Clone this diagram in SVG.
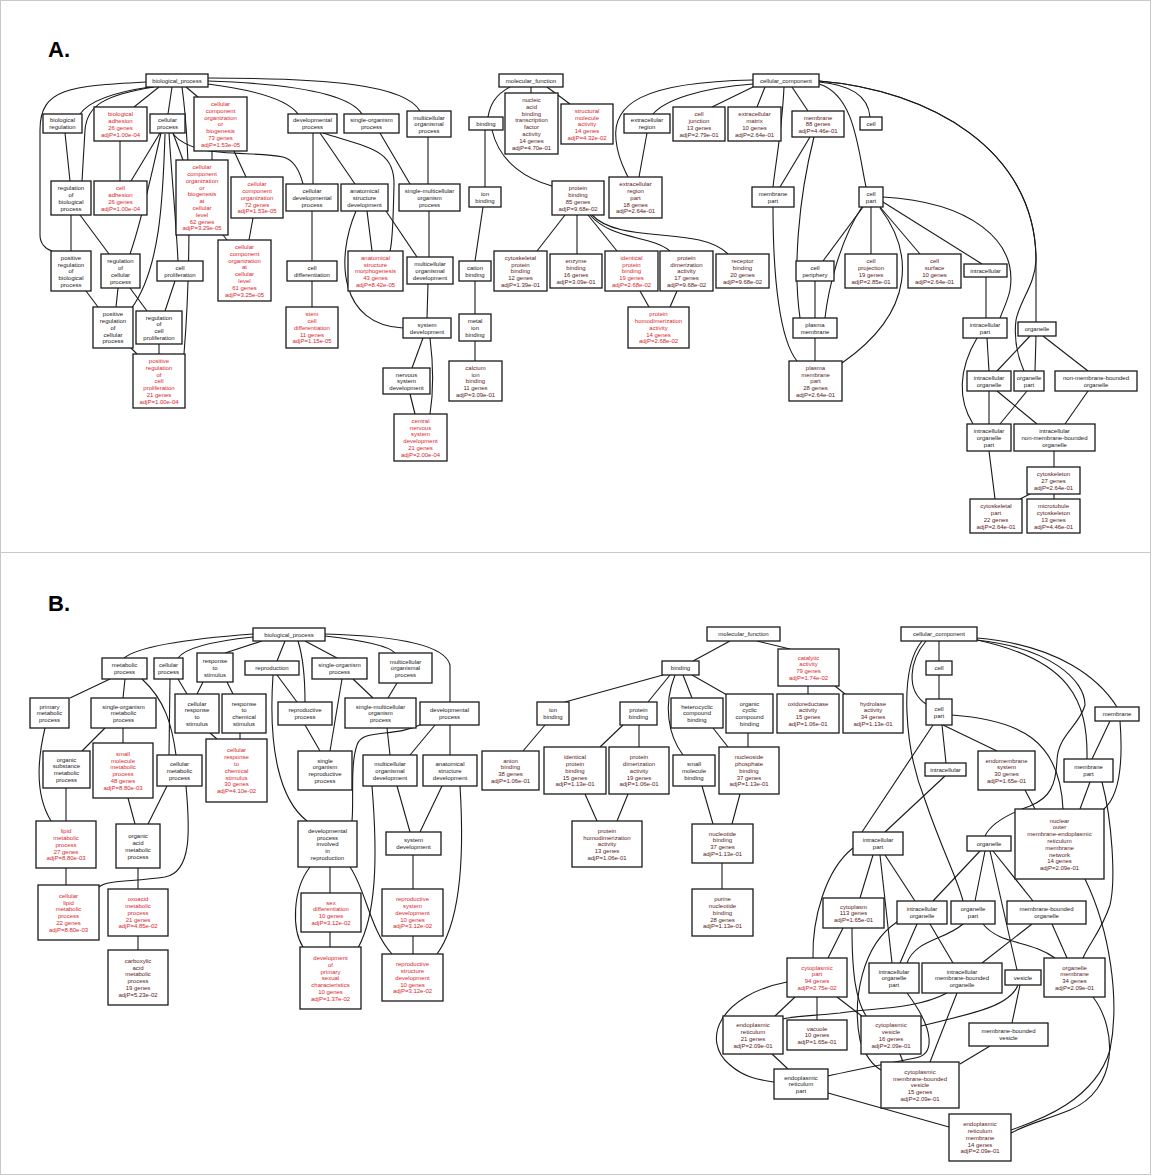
<svg xmlns="http://www.w3.org/2000/svg" width="1151" height="1175" viewBox="0 0 1151 1175">
<style>
text{font-family:"Liberation Sans",Arial,Helvetica,sans-serif;font-size:6px;text-anchor:middle;fill:#1a1a1a}
.n rect{fill:#fff;stroke:#1a1a1a;stroke-width:1.3}
.r text{fill:#d9262e}
.m text{fill:#5a1a22}
#edges path{fill:none;stroke:#1a1a1a;stroke-width:1.1}
.lbl{font-size:22px;font-weight:bold;text-anchor:start;fill:#000}
</style>
<rect x="0.5" y="0.5" width="1150" height="1174" fill="#fff" stroke="#c8c8c8"/>
<line x1="0" y1="552.5" x2="1151" y2="552.5" stroke="#c8c8c8"/>
<text class="lbl" x="48" y="57">A.</text>
<text class="lbl" x="48" y="611">B.</text>
<g id="edges">
<path d="M146,82 C70,86 40,88 40,130 L40,235 C40,243 45,249 52,251"/>
<path d="M150,87 C115,92 90,100 80,114"/>
<path d="M154,87 C105,95 87,105 85,130 L82,181"/>
<path d="M159,87 L134,107"/>
<path d="M172,87 L168,114"/>
<path d="M186,87 L198,97"/>
<path d="M182,87 C192,160 190,280 184,354"/>
<path d="M208,84 C255,90 288,100 298,114"/>
<path d="M208,81 C300,84 350,95 362,114"/>
<path d="M208,78 C330,78 405,85 420,111"/>
<path d="M173,134 C195,160 250,150 283,157 C295,160 300,172 303,184"/>
<path d="M173,133 L183,160"/>
<path d="M160,133 L131,181"/>
<path d="M161,133 C150,180 142,220 130,254"/>
<path d="M169,133 C172,180 176,220 178,261"/>
<path d="M165,134 C163,200 160,270 131,309"/>
<path d="M212,151 L212,160"/>
<path d="M234,151 L246,177"/>
<path d="M223,235 L227,240"/>
<path d="M253,218 L249,240"/>
<path d="M120,141 L120,181"/>
<path d="M65,133 L70,181"/>
<path d="M71,215 L71,251"/>
<path d="M80,215 L109,254"/>
<path d="M313,133 L313,184"/>
<path d="M320,133 L355,184"/>
<path d="M323,133 C370,148 395,150 394,185 C393,220 393,240 390,251"/>
<path d="M367,211 L372,251"/>
<path d="M356,211 C335,260 340,325 403,328"/>
<path d="M386,211 L417,257"/>
<path d="M380,133 L410,184"/>
<path d="M428,137 L428,184"/>
<path d="M429,211 L429,257"/>
<path d="M428,284 L427,318"/>
<path d="M423,338 L412,368"/>
<path d="M430,338 C434,370 433,395 430,414"/>
<path d="M410,394 L415,414"/>
<path d="M312,211 L312,261"/>
<path d="M312,281 L312,307"/>
<path d="M86,291 L98,307"/>
<path d="M118,288 L116,307"/>
<path d="M130,288 L147,311"/>
<path d="M175,281 L165,311"/>
<path d="M131,348 L137,354"/>
<path d="M159,344 L159,354"/>
<path d="M510,87 C495,95 490,105 488,117"/>
<path d="M531,87 L531,93"/>
<path d="M547,87 L570,104"/>
<path d="M485,130 L485,187"/>
<path d="M492,130 C500,165 530,180 552,186"/>
<path d="M483,207 L475,261"/>
<path d="M475,281 L475,314"/>
<path d="M475,341 L475,361"/>
<path d="M565,215 L537,251"/>
<path d="M577,215 L577,254"/>
<path d="M588,215 L617,251"/>
<path d="M590,215 C612,240 650,235 670,251"/>
<path d="M592,215 C620,245 700,225 728,254"/>
<path d="M640,291 L649,307"/>
<path d="M677,291 L670,307"/>
<path d="M753,84 C700,88 665,100 653,114"/>
<path d="M753,80 C640,82 612,105 616,140 C618,160 625,170 628,177"/>
<path d="M753,87 L712,107"/>
<path d="M765,87 L757,107"/>
<path d="M792,87 L808,111"/>
<path d="M784,87 C782,130 776,160 773,187"/>
<path d="M647,133 L639,177"/>
<path d="M810,137 L780,187"/>
<path d="M814,137 C798,200 793,270 800,318"/>
<path d="M819,82 C850,85 868,95 870,117"/>
<path d="M819,84 C855,95 858,150 866,187"/>
<path d="M819,81 C930,90 1036,150 1036,260 L1036,322"/>
<path d="M819,81 C930,90 1036,150 1036,260 C1035,285 1020,300 1016,320 C1013,345 1020,362 1024,371"/>
<path d="M883,197 C970,202 1018,240 1010,290 C1008,300 1003,310 1000,318"/>
<path d="M883,202 L982,264"/>
<path d="M863,207 L823,261"/>
<path d="M862,207 C840,240 828,290 825,318"/>
<path d="M871,207 L871,254"/>
<path d="M880,207 L920,254"/>
<path d="M880,208 C912,250 918,310 842,363"/>
<path d="M815,281 L815,318"/>
<path d="M773,207 C773,280 780,340 797,361"/>
<path d="M815,338 L815,361"/>
<path d="M986,277 L986,318"/>
<path d="M987,338 L989,371"/>
<path d="M977,338 C958,370 958,400 973,424"/>
<path d="M1030,336 L997,371"/>
<path d="M1036,336 L1035,371"/>
<path d="M1043,336 L1088,371"/>
<path d="M989,391 L989,424"/>
<path d="M997,391 L1037,424"/>
<path d="M1027,391 L1000,424"/>
<path d="M1088,391 L1065,424"/>
<path d="M1054,451 L1054,467"/>
<path d="M989,451 L995,499"/>
<path d="M1030,494 L1020,499"/>
<path d="M1054,494 L1054,499"/>
<path d="M253,634 C200,638 140,645 124,658"/>
<path d="M253,637 C215,641 185,648 178,658"/>
<path d="M262,641 L225,653"/>
<path d="M285,641 L277,661"/>
<path d="M298,641 C304,660 305,690 305,702"/>
<path d="M305,641 L337,658"/>
<path d="M325,636 C360,640 388,645 395,653"/>
<path d="M325,634 C400,636 445,645 450,665 L450,702"/>
<path d="M110,679 L70,698"/>
<path d="M125,679 L123,698"/>
<path d="M142,679 C165,700 172,725 176,755"/>
<path d="M170,679 L169,755"/>
<path d="M178,679 L187,694"/>
<path d="M203,682 L197,694"/>
<path d="M227,682 L233,694"/>
<path d="M210,733 L217,739"/>
<path d="M240,733 L240,739"/>
<path d="M105,728 L82,751"/>
<path d="M123,728 L123,743"/>
<path d="M45,728 C35,770 38,800 51,821"/>
<path d="M66,788 L66,821"/>
<path d="M128,798 L135,824"/>
<path d="M167,786 L148,824"/>
<path d="M186,786 C190,830 192,872 165,877 C130,882 108,880 99,887"/>
<path d="M66,868 L66,885"/>
<path d="M138,868 L138,889"/>
<path d="M138,936 L138,950"/>
<path d="M277,675 L297,702"/>
<path d="M273,675 C268,750 280,800 307,821"/>
<path d="M353,679 L373,698"/>
<path d="M342,679 L330,751"/>
<path d="M305,725 L320,751"/>
<path d="M397,683 L388,698"/>
<path d="M387,728 L390,755"/>
<path d="M435,725 L410,755"/>
<path d="M450,725 L450,755"/>
<path d="M422,724 C395,738 362,728 357,745 C350,765 354,800 352,821"/>
<path d="M397,786 L410,832"/>
<path d="M442,786 L420,832"/>
<path d="M372,786 C378,860 376,915 358,948"/>
<path d="M460,786 C464,850 462,920 437,954"/>
<path d="M413,855 L413,889"/>
<path d="M413,936 L413,954"/>
<path d="M330,867 L330,893"/>
<path d="M310,867 C292,890 292,930 303,947"/>
<path d="M350,867 C366,890 370,930 392,954"/>
<path d="M330,932 L330,947"/>
<path d="M730,641 L693,661"/>
<path d="M757,641 L790,649"/>
<path d="M808,686 L808,694"/>
<path d="M835,686 L845,694"/>
<path d="M663,675 L565,702"/>
<path d="M670,675 L648,702"/>
<path d="M683,675 L692,698"/>
<path d="M692,675 L727,695"/>
<path d="M675,675 C663,705 668,735 683,755"/>
<path d="M748,733 L748,747"/>
<path d="M713,728 L728,747"/>
<path d="M545,725 L523,751"/>
<path d="M623,725 L600,747"/>
<path d="M639,725 L639,747"/>
<path d="M585,794 L597,821"/>
<path d="M628,794 L617,821"/>
<path d="M702,786 L713,824"/>
<path d="M740,794 L732,824"/>
<path d="M722,863 L722,889"/>
<path d="M939,641 L939,661"/>
<path d="M939,675 L939,699"/>
<path d="M926,641 C910,660 905,690 926,704"/>
<path d="M922,641 C898,670 905,750 925,800 C942,850 958,880 963,901"/>
<path d="M977,638 C1060,645 1100,680 1117,707"/>
<path d="M977,640 C1070,660 1088,700 1087,759"/>
<path d="M977,640 C1050,648 1085,680 1085,705 C1080,725 1058,735 1057,760 C1056,785 1050,798 1030,806 C1005,815 990,825 985,836"/>
<path d="M1110,721 L1092,759"/>
<path d="M1120,721 C1123,760 1120,795 1104,809"/>
<path d="M1102,782 C1112,820 1116,880 1110,905 C1102,930 1088,945 1083,958"/>
<path d="M1090,782 L1080,809"/>
<path d="M952,715 C1020,720 1060,740 1063,809"/>
<path d="M1025,790 L1035,809"/>
<path d="M943,725 L997,751"/>
<path d="M942,725 L946,763"/>
<path d="M933,725 L862,832"/>
<path d="M945,776 L885,832"/>
<path d="M853,848 C825,870 812,920 813,958"/>
<path d="M873,855 L860,898"/>
<path d="M880,855 L892,963"/>
<path d="M885,855 L915,901"/>
<path d="M980,851 L933,901"/>
<path d="M985,851 L975,901"/>
<path d="M993,851 L1033,901"/>
<path d="M990,851 L1017,970"/>
<path d="M843,928 L828,958"/>
<path d="M852,928 C852,975 856,1000 866,1016"/>
<path d="M917,924 L900,963"/>
<path d="M930,924 L953,963"/>
<path d="M897,922 C862,945 852,1000 860,1040 C866,1058 874,1066 881,1070"/>
<path d="M963,924 C945,940 915,940 907,963"/>
<path d="M983,924 C1000,945 1030,940 1055,958"/>
<path d="M1032,924 L982,963"/>
<path d="M1052,924 L1067,958"/>
<path d="M1085,879 C1110,930 1120,1000 1110,1050 C1095,1100 1040,1120 1011,1130"/>
<path d="M1093,997 C1118,1030 1118,1090 1070,1110 C1045,1120 1025,1125 1011,1133"/>
<path d="M795,997 L775,1016"/>
<path d="M817,997 L817,1020"/>
<path d="M837,997 L863,1017"/>
<path d="M787,982 C720,995 700,1040 730,1065 C745,1078 760,1080 774,1082"/>
<path d="M772,1054 L788,1069"/>
<path d="M947,993 C915,1010 870,1008 840,1013 C810,1016 795,1016 783,1019"/>
<path d="M907,993 C935,1030 935,1055 915,1058 C880,1065 845,1072 828,1076"/>
<path d="M957,993 L930,1062"/>
<path d="M1018,985 C1010,1005 980,1012 921,1026"/>
<path d="M1020,985 L1012,1023"/>
<path d="M990,1046 L960,1064"/>
<path d="M900,1054 L903,1062"/>
<path d="M828,1093 L949,1127"/>
</g>
<g id="a-bp" class="n"><rect x="146" y="74" width="62" height="13"/><text y="82.8"><tspan x="177">biological_process</tspan></text></g>
<g id="a-bioreg" class="n"><rect x="43" y="114" width="39" height="19"/><text y="122.4"><tspan x="62.5">biological</tspan><tspan x="62.5" dy="6.8">regulation</tspan></text></g>
<g id="a-bioadh" class="n r"><rect x="94" y="107" width="53" height="34"/><text y="116.1"><tspan x="120.5">biological</tspan><tspan x="120.5" dy="6.8">adhesion</tspan><tspan x="120.5" dy="6.8">26 genes</tspan><tspan x="120.5" dy="6.8">adjP=1.00e-04</tspan></text></g>
<g id="a-cellproc" class="n"><rect x="150" y="114" width="35" height="19"/><text y="122.4"><tspan x="167.5">cellular</tspan><tspan x="167.5" dy="6.8">process</tspan></text></g>
<g id="a-cccob" class="n r"><rect x="194" y="97" width="53" height="54"/><text y="105.9"><tspan x="220.5">cellular</tspan><tspan x="220.5" dy="6.8">component</tspan><tspan x="220.5" dy="6.8">organization</tspan><tspan x="220.5" dy="6.8">or</tspan><tspan x="220.5" dy="6.8">biogenesis</tspan><tspan x="220.5" dy="6.8">73 genes</tspan><tspan x="220.5" dy="6.8">adjP=1.53e-05</tspan></text></g>
<g id="a-devproc" class="n"><rect x="288" y="114" width="49" height="19"/><text y="122.4"><tspan x="312.5">developmental</tspan><tspan x="312.5" dy="6.8">process</tspan></text></g>
<g id="a-singorg" class="n"><rect x="344" y="114" width="55" height="19"/><text y="122.4"><tspan x="371.5">single-organism</tspan><tspan x="371.5" dy="6.8">process</tspan></text></g>
<g id="a-mcop" class="n"><rect x="407" y="111" width="44" height="26"/><text y="119.5"><tspan x="429">multicellular</tspan><tspan x="429" dy="6.8">organismal</tspan><tspan x="429" dy="6.8">process</tspan></text></g>
<g id="a-regbp" class="n"><rect x="51" y="181" width="40" height="34"/><text y="190.1"><tspan x="71">regulation</tspan><tspan x="71" dy="6.8">of</tspan><tspan x="71" dy="6.8">biological</tspan><tspan x="71" dy="6.8">process</tspan></text></g>
<g id="a-celladh" class="n r"><rect x="94" y="181" width="53" height="34"/><text y="190.1"><tspan x="120.5">cell</tspan><tspan x="120.5" dy="6.8">adhesion</tspan><tspan x="120.5" dy="6.8">26 genes</tspan><tspan x="120.5" dy="6.8">adjP=1.00e-04</tspan></text></g>
<g id="a-cccobcl" class="n r"><rect x="176" y="160" width="52" height="75"/><text y="169.2"><tspan x="202">cellular</tspan><tspan x="202" dy="6.8">component</tspan><tspan x="202" dy="6.8">organization</tspan><tspan x="202" dy="6.8">or</tspan><tspan x="202" dy="6.8">biogenesis</tspan><tspan x="202" dy="6.8">at</tspan><tspan x="202" dy="6.8">cellular</tspan><tspan x="202" dy="6.8">level</tspan><tspan x="202" dy="6.8">62 genes</tspan><tspan x="202" dy="6.8">adjP=3.29e-05</tspan></text></g>
<g id="a-cco" class="n r"><rect x="231" y="177" width="52" height="41"/><text y="186.2"><tspan x="257">cellular</tspan><tspan x="257" dy="6.8">component</tspan><tspan x="257" dy="6.8">organization</tspan><tspan x="257" dy="6.8">72 genes</tspan><tspan x="257" dy="6.8">adjP=1.53e-05</tspan></text></g>
<g id="a-celldev" class="n"><rect x="286" y="184" width="52" height="27"/><text y="193"><tspan x="312">cellular</tspan><tspan x="312" dy="6.8">developmental</tspan><tspan x="312" dy="6.8">process</tspan></text></g>
<g id="a-asd" class="n"><rect x="341" y="184" width="47" height="27"/><text y="193"><tspan x="364.5">anatomical</tspan><tspan x="364.5" dy="6.8">structure</tspan><tspan x="364.5" dy="6.8">development</tspan></text></g>
<g id="a-smop" class="n"><rect x="399" y="184" width="61" height="27"/><text y="193"><tspan x="429.5">single-multicellular</tspan><tspan x="429.5" dy="6.8">organism</tspan><tspan x="429.5" dy="6.8">process</tspan></text></g>
<g id="a-posregbp" class="n"><rect x="51" y="251" width="40" height="40"/><text y="259.7"><tspan x="71">positive</tspan><tspan x="71" dy="6.8">regulation</tspan><tspan x="71" dy="6.8">of</tspan><tspan x="71" dy="6.8">biological</tspan><tspan x="71" dy="6.8">process</tspan></text></g>
<g id="a-regcp" class="n"><rect x="101" y="254" width="39" height="34"/><text y="263.1"><tspan x="120.5">regulation</tspan><tspan x="120.5" dy="6.8">of</tspan><tspan x="120.5" dy="6.8">cellular</tspan><tspan x="120.5" dy="6.8">process</tspan></text></g>
<g id="a-cellprol" class="n"><rect x="157" y="261" width="46" height="20"/><text y="269.9"><tspan x="180">cell</tspan><tspan x="180" dy="6.8">proliferation</tspan></text></g>
<g id="a-ccocl" class="n r"><rect x="218" y="240" width="53" height="61"/><text y="249"><tspan x="244.5">cellular</tspan><tspan x="244.5" dy="6.8">component</tspan><tspan x="244.5" dy="6.8">organization</tspan><tspan x="244.5" dy="6.8">at</tspan><tspan x="244.5" dy="6.8">cellular</tspan><tspan x="244.5" dy="6.8">level</tspan><tspan x="244.5" dy="6.8">61 genes</tspan><tspan x="244.5" dy="6.8">adjP=3.25e-05</tspan></text></g>
<g id="a-celldiff" class="n"><rect x="287" y="261" width="50" height="20"/><text y="269.9"><tspan x="312">cell</tspan><tspan x="312" dy="6.8">differentiation</tspan></text></g>
<g id="a-asm" class="n r"><rect x="348" y="251" width="55" height="40"/><text y="259.7"><tspan x="375.5">anatomical</tspan><tspan x="375.5" dy="6.8">structure</tspan><tspan x="375.5" dy="6.8">morphogenesis</tspan><tspan x="375.5" dy="6.8">43 genes</tspan><tspan x="375.5" dy="6.8">adjP=8.42e-05</tspan></text></g>
<g id="a-mod" class="n"><rect x="407" y="257" width="46" height="27"/><text y="266"><tspan x="430">multicellular</tspan><tspan x="430" dy="6.8">organismal</tspan><tspan x="430" dy="6.8">development</tspan></text></g>
<g id="a-posregcp" class="n"><rect x="93" y="307" width="40" height="41"/><text y="316.2"><tspan x="113">positive</tspan><tspan x="113" dy="6.8">regulation</tspan><tspan x="113" dy="6.8">of</tspan><tspan x="113" dy="6.8">cellular</tspan><tspan x="113" dy="6.8">process</tspan></text></g>
<g id="a-regcellprol" class="n"><rect x="136" y="311" width="46" height="33"/><text y="319.6"><tspan x="159">regulation</tspan><tspan x="159" dy="6.8">of</tspan><tspan x="159" dy="6.8">cell</tspan><tspan x="159" dy="6.8">proliferation</tspan></text></g>
<g id="a-posregcellprol" class="n r"><rect x="133" y="354" width="52" height="54"/><text y="362.9"><tspan x="159">positive</tspan><tspan x="159" dy="6.8">regulation</tspan><tspan x="159" dy="6.8">of</tspan><tspan x="159" dy="6.8">cell</tspan><tspan x="159" dy="6.8">proliferation</tspan><tspan x="159" dy="6.8">21 genes</tspan><tspan x="159" dy="6.8">adjP=1.00e-04</tspan></text></g>
<g id="a-stemcell" class="n r"><rect x="286" y="307" width="52" height="41"/><text y="316.2"><tspan x="312">stem</tspan><tspan x="312" dy="6.8">cell</tspan><tspan x="312" dy="6.8">differentiation</tspan><tspan x="312" dy="6.8">11 genes</tspan><tspan x="312" dy="6.8">adjP=1.15e-05</tspan></text></g>
<g id="a-sysdev" class="n"><rect x="403" y="318" width="48" height="20"/><text y="326.9"><tspan x="427">system</tspan><tspan x="427" dy="6.8">development</tspan></text></g>
<g id="a-nsd" class="n"><rect x="383" y="368" width="47" height="26"/><text y="376.5"><tspan x="406.5">nervous</tspan><tspan x="406.5" dy="6.8">system</tspan><tspan x="406.5" dy="6.8">development</tspan></text></g>
<g id="a-cnsd" class="n r"><rect x="394" y="414" width="53" height="47"/><text y="422.8"><tspan x="420.5">central</tspan><tspan x="420.5" dy="6.8">nervous</tspan><tspan x="420.5" dy="6.8">system</tspan><tspan x="420.5" dy="6.8">development</tspan><tspan x="420.5" dy="6.8">21 genes</tspan><tspan x="420.5" dy="6.8">adjP=2.00e-04</tspan></text></g>
<g id="a-mf" class="n"><rect x="499" y="74" width="64" height="13"/><text y="82.8"><tspan x="531">molecular_function</tspan></text></g>
<g id="a-binding" class="n"><rect x="469" y="117" width="34" height="13"/><text y="125.8"><tspan x="486">binding</tspan></text></g>
<g id="a-nabtf" class="n m"><rect x="505" y="93" width="53" height="61"/><text y="102"><tspan x="531.5">nucleic</tspan><tspan x="531.5" dy="6.8">acid</tspan><tspan x="531.5" dy="6.8">binding</tspan><tspan x="531.5" dy="6.8">transcription</tspan><tspan x="531.5" dy="6.8">factor</tspan><tspan x="531.5" dy="6.8">activity</tspan><tspan x="531.5" dy="6.8">14 genes</tspan><tspan x="531.5" dy="6.8">adjP=4.70e-01</tspan></text></g>
<g id="a-sma" class="n r"><rect x="561" y="104" width="52" height="40"/><text y="112.7"><tspan x="587">structural</tspan><tspan x="587" dy="6.8">molecule</tspan><tspan x="587" dy="6.8">activity</tspan><tspan x="587" dy="6.8">14 genes</tspan><tspan x="587" dy="6.8">adjP=4.32e-02</tspan></text></g>
<g id="a-ionb" class="n"><rect x="469" y="187" width="32" height="20"/><text y="195.9"><tspan x="485">ion</tspan><tspan x="485" dy="6.8">binding</tspan></text></g>
<g id="a-protb" class="n m"><rect x="552" y="181" width="52" height="34"/><text y="190.1"><tspan x="578">protein</tspan><tspan x="578" dy="6.8">binding</tspan><tspan x="578" dy="6.8">85 genes</tspan><tspan x="578" dy="6.8">adjP=9.68e-02</tspan></text></g>
<g id="a-erp" class="n m"><rect x="609" y="177" width="53" height="41"/><text y="186.2"><tspan x="635.5">extracellular</tspan><tspan x="635.5" dy="6.8">region</tspan><tspan x="635.5" dy="6.8">part</tspan><tspan x="635.5" dy="6.8">18 genes</tspan><tspan x="635.5" dy="6.8">adjP=2.64e-01</tspan></text></g>
<g id="a-er" class="n"><rect x="624" y="114" width="46" height="19"/><text y="122.4"><tspan x="647">extracellular</tspan><tspan x="647" dy="6.8">region</tspan></text></g>
<g id="a-cj" class="n m"><rect x="673" y="107" width="52" height="34"/><text y="116.1"><tspan x="699">cell</tspan><tspan x="699" dy="6.8">junction</tspan><tspan x="699" dy="6.8">13 genes</tspan><tspan x="699" dy="6.8">adjP=2.79e-01</tspan></text></g>
<g id="a-em" class="n m"><rect x="728" y="107" width="53" height="34"/><text y="116.1"><tspan x="754.5">extracellular</tspan><tspan x="754.5" dy="6.8">matrix</tspan><tspan x="754.5" dy="6.8">10 genes</tspan><tspan x="754.5" dy="6.8">adjP=2.64e-01</tspan></text></g>
<g id="a-cc" class="n"><rect x="753" y="74" width="66" height="13"/><text y="82.8"><tspan x="786">cellular_component</tspan></text></g>
<g id="a-membrane" class="n m"><rect x="792" y="111" width="52" height="26"/><text y="119.5"><tspan x="818">membrane</tspan><tspan x="818" dy="6.8">88 genes</tspan><tspan x="818" dy="6.8">adjP=4.46e-01</tspan></text></g>
<g id="a-cell" class="n"><rect x="860" y="117" width="22" height="13"/><text y="125.8"><tspan x="871">cell</tspan></text></g>
<g id="a-mp" class="n"><rect x="752" y="187" width="42" height="20"/><text y="195.9"><tspan x="773">membrane</tspan><tspan x="773" dy="6.8">part</tspan></text></g>
<g id="a-cellpart" class="n"><rect x="859" y="187" width="24" height="20"/><text y="195.9"><tspan x="871">cell</tspan><tspan x="871" dy="6.8">part</tspan></text></g>
<g id="a-cpb" class="n m"><rect x="494" y="251" width="53" height="40"/><text y="259.7"><tspan x="520.5">cytoskeletal</tspan><tspan x="520.5" dy="6.8">protein</tspan><tspan x="520.5" dy="6.8">binding</tspan><tspan x="520.5" dy="6.8">12 genes</tspan><tspan x="520.5" dy="6.8">adjP=1.39e-01</tspan></text></g>
<g id="a-eb" class="n m"><rect x="550" y="254" width="52" height="34"/><text y="263.1"><tspan x="576">enzyme</tspan><tspan x="576" dy="6.8">binding</tspan><tspan x="576" dy="6.8">16 genes</tspan><tspan x="576" dy="6.8">adjP=3.09e-01</tspan></text></g>
<g id="a-ipb" class="n r"><rect x="605" y="251" width="53" height="40"/><text y="259.7"><tspan x="631.5">identical</tspan><tspan x="631.5" dy="6.8">protein</tspan><tspan x="631.5" dy="6.8">binding</tspan><tspan x="631.5" dy="6.8">19 genes</tspan><tspan x="631.5" dy="6.8">adjP=2.68e-02</tspan></text></g>
<g id="a-pda" class="n m"><rect x="660" y="251" width="53" height="40"/><text y="259.7"><tspan x="686.5">protein</tspan><tspan x="686.5" dy="6.8">dimerization</tspan><tspan x="686.5" dy="6.8">activity</tspan><tspan x="686.5" dy="6.8">17 genes</tspan><tspan x="686.5" dy="6.8">adjP=9.68e-02</tspan></text></g>
<g id="a-rb" class="n m"><rect x="716" y="254" width="53" height="34"/><text y="263.1"><tspan x="742.5">receptor</tspan><tspan x="742.5" dy="6.8">binding</tspan><tspan x="742.5" dy="6.8">20 genes</tspan><tspan x="742.5" dy="6.8">adjP=9.68e-02</tspan></text></g>
<g id="a-cationb" class="n"><rect x="459" y="261" width="32" height="20"/><text y="269.9"><tspan x="475">cation</tspan><tspan x="475" dy="6.8">binding</tspan></text></g>
<g id="a-metalb" class="n"><rect x="459" y="314" width="32" height="27"/><text y="323"><tspan x="475">metal</tspan><tspan x="475" dy="6.8">ion</tspan><tspan x="475" dy="6.8">binding</tspan></text></g>
<g id="a-calb" class="n m"><rect x="449" y="361" width="53" height="40"/><text y="369.7"><tspan x="475.5">calcium</tspan><tspan x="475.5" dy="6.8">ion</tspan><tspan x="475.5" dy="6.8">binding</tspan><tspan x="475.5" dy="6.8">11 genes</tspan><tspan x="475.5" dy="6.8">adjP=3.09e-01</tspan></text></g>
<g id="a-phda" class="n r"><rect x="628" y="307" width="61" height="41"/><text y="316.2"><tspan x="658.5">protein</tspan><tspan x="658.5" dy="6.8">homodimerization</tspan><tspan x="658.5" dy="6.8">activity</tspan><tspan x="658.5" dy="6.8">14 genes</tspan><tspan x="658.5" dy="6.8">adjP=2.68e-02</tspan></text></g>
<g id="a-cellper" class="n"><rect x="796" y="261" width="38" height="20"/><text y="269.9"><tspan x="815">cell</tspan><tspan x="815" dy="6.8">periphery</tspan></text></g>
<g id="a-cellproj" class="n m"><rect x="845" y="254" width="52" height="34"/><text y="263.1"><tspan x="871">cell</tspan><tspan x="871" dy="6.8">projection</tspan><tspan x="871" dy="6.8">19 genes</tspan><tspan x="871" dy="6.8">adjP=2.85e-01</tspan></text></g>
<g id="a-cellsurf" class="n m"><rect x="908" y="254" width="53" height="34"/><text y="263.1"><tspan x="934.5">cell</tspan><tspan x="934.5" dy="6.8">surface</tspan><tspan x="934.5" dy="6.8">10 genes</tspan><tspan x="934.5" dy="6.8">adjP=2.64e-01</tspan></text></g>
<g id="a-intra" class="n"><rect x="964" y="264" width="43" height="13"/><text y="272.8"><tspan x="985.5">intracellular</tspan></text></g>
<g id="a-pm" class="n"><rect x="793" y="318" width="44" height="20"/><text y="326.9"><tspan x="815">plasma</tspan><tspan x="815" dy="6.8">membrane</tspan></text></g>
<g id="a-pmp" class="n m"><rect x="789" y="361" width="53" height="40"/><text y="369.7"><tspan x="815.5">plasma</tspan><tspan x="815.5" dy="6.8">membrane</tspan><tspan x="815.5" dy="6.8">part</tspan><tspan x="815.5" dy="6.8">28 genes</tspan><tspan x="815.5" dy="6.8">adjP=2.64e-01</tspan></text></g>
<g id="a-ip" class="n"><rect x="963" y="318" width="44" height="20"/><text y="326.9"><tspan x="985">intracellular</tspan><tspan x="985" dy="6.8">part</tspan></text></g>
<g id="a-org" class="n"><rect x="1018" y="322" width="38" height="14"/><text y="331.3"><tspan x="1037">organelle</tspan></text></g>
<g id="a-io" class="n"><rect x="967" y="371" width="44" height="20"/><text y="379.9"><tspan x="989">intracellular</tspan><tspan x="989" dy="6.8">organelle</tspan></text></g>
<g id="a-op" class="n"><rect x="1014" y="371" width="30" height="20"/><text y="379.9"><tspan x="1029">organelle</tspan><tspan x="1029" dy="6.8">part</tspan></text></g>
<g id="a-nmbo" class="n"><rect x="1055" y="371" width="82" height="20"/><text y="379.9"><tspan x="1096">non-membrane-bounded</tspan><tspan x="1096" dy="6.8">organelle</tspan></text></g>
<g id="a-iop" class="n"><rect x="967" y="424" width="44" height="27"/><text y="433"><tspan x="989">intracellular</tspan><tspan x="989" dy="6.8">organelle</tspan><tspan x="989" dy="6.8">part</tspan></text></g>
<g id="a-inmbo" class="n"><rect x="1014" y="424" width="81" height="27"/><text y="433"><tspan x="1054.5">intracellular</tspan><tspan x="1054.5" dy="6.8">non-membrane-bounded</tspan><tspan x="1054.5" dy="6.8">organelle</tspan></text></g>
<g id="a-cytosk" class="n m"><rect x="1027" y="467" width="53" height="27"/><text y="476"><tspan x="1053.5">cytoskeleton</tspan><tspan x="1053.5" dy="6.8">27 genes</tspan><tspan x="1053.5" dy="6.8">adjP=2.64e-01</tspan></text></g>
<g id="a-cytoskp" class="n m"><rect x="970" y="499" width="52" height="34"/><text y="508.1"><tspan x="996">cytoskeletal</tspan><tspan x="996" dy="6.8">part</tspan><tspan x="996" dy="6.8">22 genes</tspan><tspan x="996" dy="6.8">adjP=2.64e-01</tspan></text></g>
<g id="a-mtc" class="n m"><rect x="1027" y="499" width="53" height="34"/><text y="508.1"><tspan x="1053.5">microtubule</tspan><tspan x="1053.5" dy="6.8">cytoskeleton</tspan><tspan x="1053.5" dy="6.8">13 genes</tspan><tspan x="1053.5" dy="6.8">adjP=4.46e-01</tspan></text></g>
<g id="b-bp" class="n"><rect x="253" y="628" width="72" height="13"/><text y="636.8"><tspan x="289">biological_process</tspan></text></g>
<g id="b-metab" class="n"><rect x="102" y="658" width="45" height="21"/><text y="667.4"><tspan x="124.5">metabolic</tspan><tspan x="124.5" dy="6.8">process</tspan></text></g>
<g id="b-cellproc" class="n"><rect x="154" y="658" width="29" height="21"/><text y="667.4"><tspan x="168.5">cellular</tspan><tspan x="168.5" dy="6.8">process</tspan></text></g>
<g id="b-rts" class="n"><rect x="197" y="653" width="36" height="29"/><text y="663"><tspan x="215">response</tspan><tspan x="215" dy="6.8">to</tspan><tspan x="215" dy="6.8">stimulus</tspan></text></g>
<g id="b-repro" class="n"><rect x="245" y="661" width="54" height="14"/><text y="670.3"><tspan x="272">reproduction</tspan></text></g>
<g id="b-singorg" class="n"><rect x="312" y="658" width="55" height="21"/><text y="667.4"><tspan x="339.5">single-organism</tspan><tspan x="339.5" dy="6.8">process</tspan></text></g>
<g id="b-mop" class="n"><rect x="379" y="653" width="53" height="30"/><text y="663.5"><tspan x="405.5">multicellular</tspan><tspan x="405.5" dy="6.8">organismal</tspan><tspan x="405.5" dy="6.8">process</tspan></text></g>
<g id="b-pmp" class="n"><rect x="30" y="698" width="39" height="30"/><text y="708.5"><tspan x="49.5">primary</tspan><tspan x="49.5" dy="6.8">metabolic</tspan><tspan x="49.5" dy="6.8">process</tspan></text></g>
<g id="b-somp" class="n"><rect x="91" y="698" width="65" height="30"/><text y="708.5"><tspan x="123.5">single-organism</tspan><tspan x="123.5" dy="6.8">metabolic</tspan><tspan x="123.5" dy="6.8">process</tspan></text></g>
<g id="b-crts" class="n"><rect x="175" y="694" width="44" height="39"/><text y="705.6"><tspan x="197">cellular</tspan><tspan x="197" dy="6.8">response</tspan><tspan x="197" dy="6.8">to</tspan><tspan x="197" dy="6.8">stimulus</tspan></text></g>
<g id="b-rtcs" class="n"><rect x="222" y="694" width="44" height="39"/><text y="705.6"><tspan x="244">response</tspan><tspan x="244" dy="6.8">to</tspan><tspan x="244" dy="6.8">chemical</tspan><tspan x="244" dy="6.8">stimulus</tspan></text></g>
<g id="b-rp" class="n"><rect x="278" y="702" width="54" height="23"/><text y="712.4"><tspan x="305">reproductive</tspan><tspan x="305" dy="6.8">process</tspan></text></g>
<g id="b-smop" class="n"><rect x="345" y="698" width="71" height="30"/><text y="708.5"><tspan x="380.5">single-multicellular</tspan><tspan x="380.5" dy="6.8">organism</tspan><tspan x="380.5" dy="6.8">process</tspan></text></g>
<g id="b-devproc" class="n"><rect x="420" y="702" width="59" height="23"/><text y="712.4"><tspan x="449.5">developmental</tspan><tspan x="449.5" dy="6.8">process</tspan></text></g>
<g id="b-osmp" class="n"><rect x="43" y="751" width="47" height="37"/><text y="761.6"><tspan x="66.5">organic</tspan><tspan x="66.5" dy="6.8">substance</tspan><tspan x="66.5" dy="6.8">metabolic</tspan><tspan x="66.5" dy="6.8">process</tspan></text></g>
<g id="b-smmp" class="n r"><rect x="93" y="743" width="60" height="55"/><text y="755.8"><tspan x="123">small</tspan><tspan x="123" dy="6.8">molecule</tspan><tspan x="123" dy="6.8">metabolic</tspan><tspan x="123" dy="6.8">process</tspan><tspan x="123" dy="6.8">48 genes</tspan><tspan x="123" dy="6.8">adjP=8.80e-03</tspan></text></g>
<g id="b-cmp" class="n"><rect x="157" y="755" width="45" height="31"/><text y="766"><tspan x="179.5">cellular</tspan><tspan x="179.5" dy="6.8">metabolic</tspan><tspan x="179.5" dy="6.8">process</tspan></text></g>
<g id="b-crtcs" class="n r"><rect x="206" y="739" width="61" height="63"/><text y="752.4"><tspan x="236.5">cellular</tspan><tspan x="236.5" dy="6.8">response</tspan><tspan x="236.5" dy="6.8">to</tspan><tspan x="236.5" dy="6.8">chemical</tspan><tspan x="236.5" dy="6.8">stimulus</tspan><tspan x="236.5" dy="6.8">30 genes</tspan><tspan x="236.5" dy="6.8">adjP=4.10e-02</tspan></text></g>
<g id="b-sorp" class="n"><rect x="298" y="751" width="54" height="39"/><text y="762.6"><tspan x="325">single</tspan><tspan x="325" dy="6.8">organism</tspan><tspan x="325" dy="6.8">reproductive</tspan><tspan x="325" dy="6.8">process</tspan></text></g>
<g id="b-mod" class="n"><rect x="363" y="755" width="54" height="31"/><text y="766"><tspan x="390">multicellular</tspan><tspan x="390" dy="6.8">organismal</tspan><tspan x="390" dy="6.8">development</tspan></text></g>
<g id="b-asd" class="n"><rect x="423" y="755" width="54" height="31"/><text y="766"><tspan x="450">anatomical</tspan><tspan x="450" dy="6.8">structure</tspan><tspan x="450" dy="6.8">development</tspan></text></g>
<g id="b-lmp" class="n r"><rect x="36" y="821" width="60" height="47"/><text y="833.2"><tspan x="66">lipid</tspan><tspan x="66" dy="6.8">metabolic</tspan><tspan x="66" dy="6.8">process</tspan><tspan x="66" dy="6.8">27 genes</tspan><tspan x="66" dy="6.8">adjP=8.80e-03</tspan></text></g>
<g id="b-oamp" class="n"><rect x="116" y="824" width="44" height="44"/><text y="838.1"><tspan x="138">organic</tspan><tspan x="138" dy="6.8">acid</tspan><tspan x="138" dy="6.8">metabolic</tspan><tspan x="138" dy="6.8">process</tspan></text></g>
<g id="b-dpir" class="n"><rect x="298" y="821" width="59" height="46"/><text y="832.7"><tspan x="327.5">developmental</tspan><tspan x="327.5" dy="6.8">process</tspan><tspan x="327.5" dy="6.8">involved</tspan><tspan x="327.5" dy="6.8">in</tspan><tspan x="327.5" dy="6.8">reproduction</tspan></text></g>
<g id="b-sysdev" class="n"><rect x="386" y="832" width="55" height="23"/><text y="842.4"><tspan x="413.5">system</tspan><tspan x="413.5" dy="6.8">development</tspan></text></g>
<g id="b-clmp" class="n r"><rect x="38" y="885" width="61" height="55"/><text y="897.8"><tspan x="68.5">cellular</tspan><tspan x="68.5" dy="6.8">lipid</tspan><tspan x="68.5" dy="6.8">metabolic</tspan><tspan x="68.5" dy="6.8">process</tspan><tspan x="68.5" dy="6.8">22 genes</tspan><tspan x="68.5" dy="6.8">adjP=8.80e-03</tspan></text></g>
<g id="b-oxo" class="n r"><rect x="108" y="889" width="60" height="47"/><text y="901.2"><tspan x="138">oxoacid</tspan><tspan x="138" dy="6.8">metabolic</tspan><tspan x="138" dy="6.8">process</tspan><tspan x="138" dy="6.8">21 genes</tspan><tspan x="138" dy="6.8">adjP=4.85e-02</tspan></text></g>
<g id="b-carb" class="n m"><rect x="108" y="950" width="60" height="55"/><text y="962.8"><tspan x="138">carboxylic</tspan><tspan x="138" dy="6.8">acid</tspan><tspan x="138" dy="6.8">metabolic</tspan><tspan x="138" dy="6.8">process</tspan><tspan x="138" dy="6.8">19 genes</tspan><tspan x="138" dy="6.8">adjP=5.23e-02</tspan></text></g>
<g id="b-sexdiff" class="n r"><rect x="301" y="893" width="60" height="39"/><text y="904.6"><tspan x="331">sex</tspan><tspan x="331" dy="6.8">differentiation</tspan><tspan x="331" dy="6.8">10 genes</tspan><tspan x="331" dy="6.8">adjP=3.12e-02</tspan></text></g>
<g id="b-dpsc" class="n r"><rect x="300" y="947" width="61" height="62"/><text y="959.9"><tspan x="330.5">development</tspan><tspan x="330.5" dy="6.8">of</tspan><tspan x="330.5" dy="6.8">primary</tspan><tspan x="330.5" dy="6.8">sexual</tspan><tspan x="330.5" dy="6.8">characteristics</tspan><tspan x="330.5" dy="6.8">10 genes</tspan><tspan x="330.5" dy="6.8">adjP=1.37e-02</tspan></text></g>
<g id="b-rsysd" class="n r"><rect x="382" y="889" width="61" height="47"/><text y="901.2"><tspan x="412.5">reproductive</tspan><tspan x="412.5" dy="6.8">system</tspan><tspan x="412.5" dy="6.8">development</tspan><tspan x="412.5" dy="6.8">10 genes</tspan><tspan x="412.5" dy="6.8">adjP=3.12e-02</tspan></text></g>
<g id="b-rstrd" class="n r"><rect x="382" y="954" width="61" height="47"/><text y="966.2"><tspan x="412.5">reproductive</tspan><tspan x="412.5" dy="6.8">structure</tspan><tspan x="412.5" dy="6.8">development</tspan><tspan x="412.5" dy="6.8">10 genes</tspan><tspan x="412.5" dy="6.8">adjP=3.12e-02</tspan></text></g>
<g id="b-mf" class="n"><rect x="707" y="627" width="73" height="14"/><text y="636.3"><tspan x="743.5">molecular_function</tspan></text></g>
<g id="b-binding" class="n"><rect x="662" y="661" width="37" height="14"/><text y="670.3"><tspan x="680.5">binding</tspan></text></g>
<g id="b-cat" class="n r"><rect x="778" y="649" width="61" height="37"/><text y="659.6"><tspan x="808.5">catalytic</tspan><tspan x="808.5" dy="6.8">activity</tspan><tspan x="808.5" dy="6.8">79 genes</tspan><tspan x="808.5" dy="6.8">adjP=1.74e-02</tspan></text></g>
<g id="b-oxred" class="n m"><rect x="777" y="694" width="62" height="39"/><text y="705.6"><tspan x="808">oxidoreductase</tspan><tspan x="808" dy="6.8">activity</tspan><tspan x="808" dy="6.8">15 genes</tspan><tspan x="808" dy="6.8">adjP=1.06e-01</tspan></text></g>
<g id="b-hydro" class="n m"><rect x="843" y="694" width="60" height="39"/><text y="705.6"><tspan x="873">hydrolase</tspan><tspan x="873" dy="6.8">activity</tspan><tspan x="873" dy="6.8">34 genes</tspan><tspan x="873" dy="6.8">adjP=1.13e-01</tspan></text></g>
<g id="b-ionb" class="n"><rect x="537" y="702" width="32" height="23"/><text y="712.4"><tspan x="553">ion</tspan><tspan x="553" dy="6.8">binding</tspan></text></g>
<g id="b-protb" class="n"><rect x="620" y="702" width="37" height="23"/><text y="712.4"><tspan x="638.5">protein</tspan><tspan x="638.5" dy="6.8">binding</tspan></text></g>
<g id="b-hcb" class="n"><rect x="671" y="698" width="52" height="30"/><text y="708.5"><tspan x="697">heterocyclic</tspan><tspan x="697" dy="6.8">compound</tspan><tspan x="697" dy="6.8">binding</tspan></text></g>
<g id="b-occb" class="n"><rect x="726" y="694" width="47" height="39"/><text y="705.6"><tspan x="749.5">organic</tspan><tspan x="749.5" dy="6.8">cyclic</tspan><tspan x="749.5" dy="6.8">compound</tspan><tspan x="749.5" dy="6.8">binding</tspan></text></g>
<g id="b-anion" class="n m"><rect x="482" y="751" width="57" height="39"/><text y="762.6"><tspan x="510.5">anion</tspan><tspan x="510.5" dy="6.8">binding</tspan><tspan x="510.5" dy="6.8">38 genes</tspan><tspan x="510.5" dy="6.8">adjP=1.06e-01</tspan></text></g>
<g id="b-ipb" class="n m"><rect x="544" y="747" width="62" height="47"/><text y="759.2"><tspan x="575">identical</tspan><tspan x="575" dy="6.8">protein</tspan><tspan x="575" dy="6.8">binding</tspan><tspan x="575" dy="6.8">15 genes</tspan><tspan x="575" dy="6.8">adjP=1.13e-01</tspan></text></g>
<g id="b-pda" class="n m"><rect x="609" y="747" width="60" height="47"/><text y="759.2"><tspan x="639">protein</tspan><tspan x="639" dy="6.8">dimerization</tspan><tspan x="639" dy="6.8">activity</tspan><tspan x="639" dy="6.8">19 genes</tspan><tspan x="639" dy="6.8">adjP=1.06e-01</tspan></text></g>
<g id="b-smb" class="n"><rect x="673" y="755" width="42" height="31"/><text y="766"><tspan x="694">small</tspan><tspan x="694" dy="6.8">molecule</tspan><tspan x="694" dy="6.8">binding</tspan></text></g>
<g id="b-npb" class="n m"><rect x="719" y="747" width="60" height="47"/><text y="759.2"><tspan x="749">nucleoside</tspan><tspan x="749" dy="6.8">phosphate</tspan><tspan x="749" dy="6.8">binding</tspan><tspan x="749" dy="6.8">37 genes</tspan><tspan x="749" dy="6.8">adjP=1.13e-01</tspan></text></g>
<g id="b-phda" class="n m"><rect x="572" y="821" width="70" height="46"/><text y="832.7"><tspan x="607">protein</tspan><tspan x="607" dy="6.8">homodimerization</tspan><tspan x="607" dy="6.8">activity</tspan><tspan x="607" dy="6.8">13 genes</tspan><tspan x="607" dy="6.8">adjP=1.06e-01</tspan></text></g>
<g id="b-nb" class="n m"><rect x="692" y="824" width="61" height="39"/><text y="835.6"><tspan x="722.5">nucleotide</tspan><tspan x="722.5" dy="6.8">binding</tspan><tspan x="722.5" dy="6.8">37 genes</tspan><tspan x="722.5" dy="6.8">adjP=1.13e-01</tspan></text></g>
<g id="b-pnb" class="n m"><rect x="692" y="889" width="61" height="47"/><text y="901.2"><tspan x="722.5">purine</tspan><tspan x="722.5" dy="6.8">nucleotide</tspan><tspan x="722.5" dy="6.8">binding</tspan><tspan x="722.5" dy="6.8">28 genes</tspan><tspan x="722.5" dy="6.8">adjP=1.13e-01</tspan></text></g>
<g id="b-cc" class="n"><rect x="901" y="627" width="76" height="14"/><text y="636.3"><tspan x="939">cellular_component</tspan></text></g>
<g id="b-cell" class="n"><rect x="926" y="661" width="26" height="14"/><text y="670.3"><tspan x="939">cell</tspan></text></g>
<g id="b-cellpart" class="n"><rect x="926" y="699" width="26" height="26"/><text y="710.9"><tspan x="939">cell</tspan><tspan x="939" dy="6.8">part</tspan></text></g>
<g id="b-membrane" class="n"><rect x="1095" y="707" width="44" height="14"/><text y="716.3"><tspan x="1117">membrane</tspan></text></g>
<g id="b-intra" class="n"><rect x="925" y="763" width="41" height="13"/><text y="771.8"><tspan x="945.5">intracellular</tspan></text></g>
<g id="b-endo" class="n m"><rect x="978" y="751" width="57" height="39"/><text y="762.6"><tspan x="1006.5">endomembrane</tspan><tspan x="1006.5" dy="6.8">system</tspan><tspan x="1006.5" dy="6.8">30 genes</tspan><tspan x="1006.5" dy="6.8">adjP=1.65e-01</tspan></text></g>
<g id="b-mp" class="n"><rect x="1064" y="759" width="49" height="23"/><text y="769.4"><tspan x="1088.5">membrane</tspan><tspan x="1088.5" dy="6.8">part</tspan></text></g>
<g id="b-nomer" class="n m"><rect x="1015" y="809" width="89" height="70"/><text y="822.5"><tspan x="1059.5">nuclear</tspan><tspan x="1059.5" dy="6.8">outer</tspan><tspan x="1059.5" dy="6.8">membrane-endoplasmic</tspan><tspan x="1059.5" dy="6.8">reticulum</tspan><tspan x="1059.5" dy="6.8">membrane</tspan><tspan x="1059.5" dy="6.8">network</tspan><tspan x="1059.5" dy="6.8">14 genes</tspan><tspan x="1059.5" dy="6.8">adjP=2.09e-01</tspan></text></g>
<g id="b-ip" class="n"><rect x="853" y="832" width="50" height="23"/><text y="842.4"><tspan x="878">intracellular</tspan><tspan x="878" dy="6.8">part</tspan></text></g>
<g id="b-org" class="n"><rect x="967" y="836" width="44" height="15"/><text y="845.8"><tspan x="989">organelle</tspan></text></g>
<g id="b-cyto" class="n m"><rect x="823" y="898" width="61" height="30"/><text y="908.5"><tspan x="853.5">cytoplasm</tspan><tspan x="853.5" dy="6.8">113 genes</tspan><tspan x="853.5" dy="6.8">adjP=1.65e-01</tspan></text></g>
<g id="b-io" class="n"><rect x="897" y="901" width="50" height="23"/><text y="911.4"><tspan x="922">intracellular</tspan><tspan x="922" dy="6.8">organelle</tspan></text></g>
<g id="b-op" class="n"><rect x="951" y="901" width="44" height="23"/><text y="911.4"><tspan x="973">organelle</tspan><tspan x="973" dy="6.8">part</tspan></text></g>
<g id="b-mbo" class="n"><rect x="1007" y="901" width="79" height="23"/><text y="911.4"><tspan x="1046.5">membrane-bounded</tspan><tspan x="1046.5" dy="6.8">organelle</tspan></text></g>
<g id="b-cytop" class="n r"><rect x="787" y="958" width="60" height="39"/><text y="969.6"><tspan x="817">cytoplasmic</tspan><tspan x="817" dy="6.8">part</tspan><tspan x="817" dy="6.8">94 genes</tspan><tspan x="817" dy="6.8">adjP=2.75e-02</tspan></text></g>
<g id="b-iop" class="n"><rect x="869" y="963" width="50" height="30"/><text y="973.5"><tspan x="894">intracellular</tspan><tspan x="894" dy="6.8">organelle</tspan><tspan x="894" dy="6.8">part</tspan></text></g>
<g id="b-imbo" class="n"><rect x="922" y="963" width="80" height="30"/><text y="973.5"><tspan x="962">intracellular</tspan><tspan x="962" dy="6.8">membrane-bounded</tspan><tspan x="962" dy="6.8">organelle</tspan></text></g>
<g id="b-vesicle" class="n"><rect x="1005" y="970" width="36" height="15"/><text y="979.8"><tspan x="1023">vesicle</tspan></text></g>
<g id="b-om" class="n m"><rect x="1044" y="958" width="61" height="39"/><text y="969.6"><tspan x="1074.5">organelle</tspan><tspan x="1074.5" dy="6.8">membrane</tspan><tspan x="1074.5" dy="6.8">34 genes</tspan><tspan x="1074.5" dy="6.8">adjP=2.09e-01</tspan></text></g>
<g id="b-er" class="n m"><rect x="723" y="1016" width="60" height="38"/><text y="1027.1"><tspan x="753">endoplasmic</tspan><tspan x="753" dy="6.8">reticulum</tspan><tspan x="753" dy="6.8">21 genes</tspan><tspan x="753" dy="6.8">adjP=2.09e-01</tspan></text></g>
<g id="b-vac" class="n m"><rect x="787" y="1020" width="60" height="30"/><text y="1030.5"><tspan x="817">vacuole</tspan><tspan x="817" dy="6.8">10 genes</tspan><tspan x="817" dy="6.8">adjP=1.65e-01</tspan></text></g>
<g id="b-cv" class="n m"><rect x="861" y="1016" width="60" height="38"/><text y="1027.1"><tspan x="891">cytoplasmic</tspan><tspan x="891" dy="6.8">vesicle</tspan><tspan x="891" dy="6.8">16 genes</tspan><tspan x="891" dy="6.8">adjP=2.09e-01</tspan></text></g>
<g id="b-mbv" class="n"><rect x="969" y="1023" width="79" height="23"/><text y="1033.4"><tspan x="1008.5">membrane-bounded</tspan><tspan x="1008.5" dy="6.8">vesicle</tspan></text></g>
<g id="b-erp" class="n"><rect x="774" y="1069" width="54" height="30"/><text y="1079.5"><tspan x="801">endoplasmic</tspan><tspan x="801" dy="6.8">reticulum</tspan><tspan x="801" dy="6.8">part</tspan></text></g>
<g id="b-cmbv" class="n m"><rect x="881" y="1062" width="78" height="46"/><text y="1073.7"><tspan x="920">cytoplasmic</tspan><tspan x="920" dy="6.8">membrane-bounded</tspan><tspan x="920" dy="6.8">vesicle</tspan><tspan x="920" dy="6.8">15 genes</tspan><tspan x="920" dy="6.8">adjP=2.09e-01</tspan></text></g>
<g id="b-erm" class="n m"><rect x="949" y="1114" width="62" height="47"/><text y="1126.2"><tspan x="980">endoplasmic</tspan><tspan x="980" dy="6.8">reticulum</tspan><tspan x="980" dy="6.8">membrane</tspan><tspan x="980" dy="6.8">14 genes</tspan><tspan x="980" dy="6.8">adjP=2.09e-01</tspan></text></g>
</svg>
